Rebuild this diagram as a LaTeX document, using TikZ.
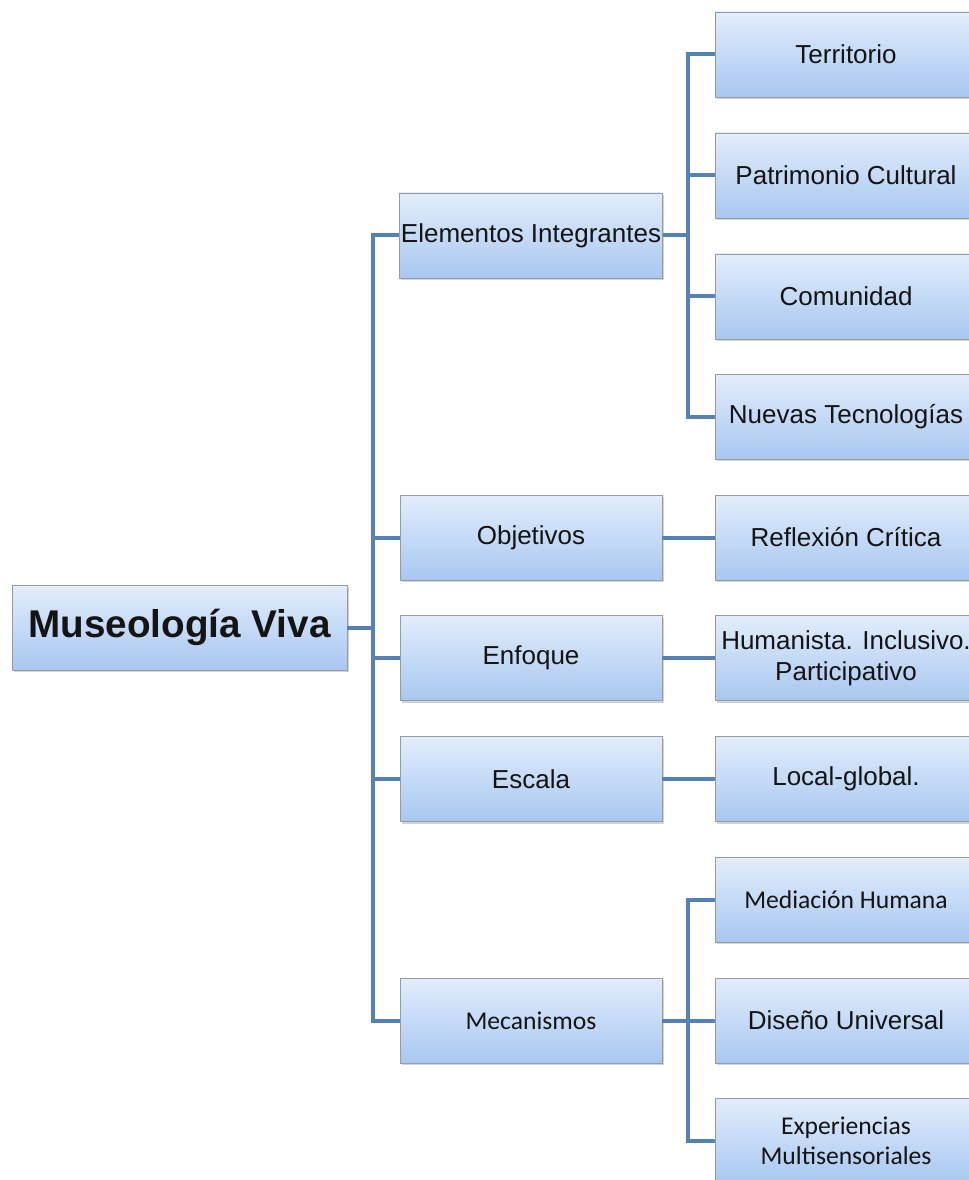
\documentclass[tikz,border=0pt]{standalone}
\usepackage{fontspec}
\setmainfont{Liberation Sans}
\newfontfamily\carl{Carlito}
\usetikzlibrary{shadows}
\definecolor{linkblue}{RGB}{84,130,181}
\definecolor{boxtop}{RGB}{226,237,252}
\definecolor{boxbot}{RGB}{168,199,240}
\definecolor{boxedge}{RGB}{150,155,160}
\definecolor{txt}{RGB}{20,20,20}
\tikzset{
  box/.style={draw=boxedge, line width=0.6pt, top color=boxtop, bottom color=boxbot,
    minimum width=196.5pt, minimum height=63.75pt, inner sep=1pt, align=center,
    text=txt, font=\fontsize{19.5}{23}\selectfont,
    drop shadow={shadow xshift=1.2pt, shadow yshift=-1.5pt, opacity=0.35, fill=gray}},
  rootbox/.style={box, minimum width=251.25pt, font=\fontsize{29}{34}\selectfont\bfseries},
  cbox/.style={box, font=\fontsize{19.2}{22.5}\selectfont\carl},
  conn/.style={draw=linkblue, line width=3pt}
}
\begin{document}
\begin{tikzpicture}[x=0.75pt, y=-0.75pt]
\useasboundingbox (0,0) rectangle (969,1180);
\clip (0,0) rectangle (969,1180);
% root
\node[rootbox] (root) at (179.5,627.5) {Museología Viva};
% level 1
\node[box] (elem) at (531,235.5) {Elementos Integrantes};
\node[box] (obj) at (531,537.5) {Objetivos};
\node[box] (enf) at (531,658) {Enfoque};
\node[box] (esc) at (531,779) {Escala};
\node[cbox] (mec) at (531,1020.5) {Mecanismos};
% level 2
\node[box] (terr) at (846,54.5) {Territorio};
\node[box] (patr) at (846,175.5) {Patrimonio Cultural};
\node[box] (comu) at (846,296.5) {Comunidad};
\node[box] (nuev) at (846,416.5) {Nuevas Tecnologías};
\node[box] (refl) at (846,537.5) {Reflexión Crítica};
\node[box] (huma) at (846,658) {Humanista. Inclusivo.\\Participativo};
\node[box] (loca) at (846,779) {Local-global.};
\node[cbox] (medi) at (846,899.5) {Mediación Humana};
\node[box] (dise) at (846,1020.5) {Diseño Universal};
\node[cbox] (expe) at (846,1140.5) {Experiencias\\Multisensoriales};
% connectors
\coordinate (j1) at (373,627.5);
\draw[conn] (root.east) -- (j1);
\foreach \n in {elem,obj,enf,esc,mec} \draw[conn] (j1) |- (\n.west);
\coordinate (j2) at (688,235.5);
\draw[conn] (elem.east) -- (j2);
\foreach \n in {terr,patr,comu,nuev} \draw[conn] (j2) |- (\n.west);
\draw[conn] (obj.east) -- (refl.west);
\draw[conn] (enf.east) -- (huma.west);
\draw[conn] (esc.east) -- (loca.west);
\coordinate (j3) at (688,1020.5);
\draw[conn] (mec.east) -- (j3);
\foreach \n in {medi,dise,expe} \draw[conn] (j3) |- (\n.west);
\end{tikzpicture}
\end{document}
